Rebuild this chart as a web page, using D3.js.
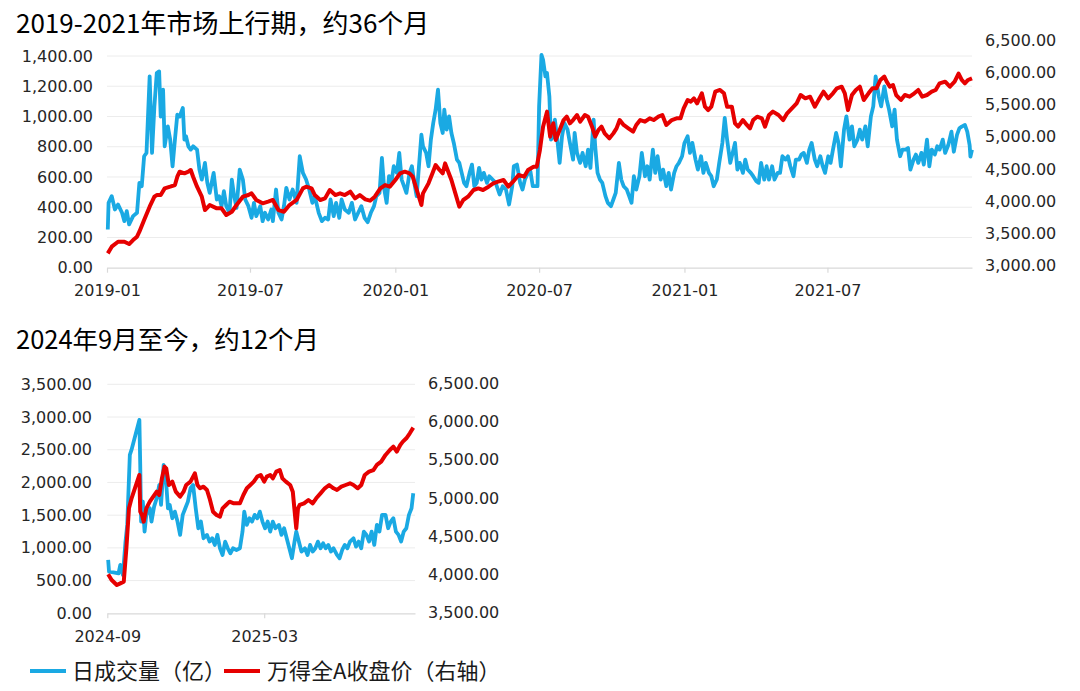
<!DOCTYPE html>
<html>
<head>
<meta charset="utf-8">
<script src="https://cdn.jsdelivr.net/npm/d3@7"></script>
<style>
    body { margin: 0; background: #fff; }
    svg { display: block; }
</style>
</head>
<body>
<div class="chart"></div>
<script>
// titles and legend names
const topTitle = "2019-2021年市场上行期，约36个月";
const bottomTitle = "2024年9月至今，约12个月";
const seriesNames = ["日成交量（亿）", "万得全A收盘价（右轴）"];

// 2019-2021: daily turnover (亿)
const topVolume = [
    ["2019-01-02",253],["2019-01-03",429],["2019-01-07",473],["2019-01-11",385],["2019-01-15",418],["2019-01-20",363],["2019-01-23",308],["2019-01-26",374],["2019-01-29",286],["2019-02-03",341],["2019-02-08",363],["2019-02-11",561],["2019-02-14",539],["2019-02-17",737],["2019-02-20",759],["2019-02-24",1265],["2019-02-27",759],["2019-03-02",1067],["2019-03-05",1287],["2019-03-08",1298],["2019-03-10",1000],["2019-03-13",1177],["2019-03-15",803],["2019-03-19",935],["2019-03-22",847],["2019-03-25",671],["2019-03-28",847],["2019-03-31",1012],["2019-04-03",1000],["2019-04-07",1056],["2019-04-09",847],["2019-04-11",869],["2019-04-14",803],["2019-04-17",781],["2019-04-20",803],["2019-04-25",781],["2019-04-28",649],["2019-05-01",583],["2019-05-05",693],["2019-05-08",561],["2019-05-11",495],["2019-05-16",627],["2019-05-20",451],["2019-05-23",473],["2019-05-26",407],["2019-05-29",506],["2019-06-01",407],["2019-06-05",363],["2019-06-08",583],["2019-06-11",473],["2019-06-14",396],["2019-06-18",649],["2019-06-22",583],["2019-06-25",451],["2019-06-29",407],["2019-07-03",330],["2019-07-06",429],["2019-07-09",341],["2019-07-14",407],["2019-07-17",308],["2019-07-20",363],["2019-07-24",319],["2019-07-28",385],["2019-07-30",308],["2019-08-03",517],["2019-08-06",363],["2019-08-10",319],["2019-08-13",407],["2019-08-16",528],["2019-08-20",451],["2019-08-24",517],["2019-08-29",429],["2019-09-02",737],["2019-09-06",627],["2019-09-10",583],["2019-09-14",517],["2019-09-18",429],["2019-09-21",473],
    ["2019-09-26",363],["2019-09-30",308],["2019-10-04",330],["2019-10-08",319],["2019-10-11",451],["2019-10-15",341],["2019-10-18",429],["2019-10-22",330],["2019-10-25",451],["2019-10-29",385],["2019-11-03",363],["2019-11-07",429],["2019-11-11",319],["2019-11-15",363],["2019-11-19",407],["2019-11-23",330],["2019-11-27",301],["2019-12-01",363],["2019-12-05",407],["2019-12-08",473],["2019-12-12",495],["2019-12-15",726],["2019-12-18",517],["2019-12-21",429],["2019-12-24",605],["2019-12-27",561],["2019-12-30",671],["2020-01-03",627],["2020-01-06",759],["2020-01-09",583],["2020-01-12",539],["2020-01-15",495],["2020-01-19",627],["2020-01-22",671],["2020-01-25",561],["2020-01-28",473],["2020-02-03",880],["2020-02-05",803],["2020-02-09",759],["2020-02-12",671],["2020-02-15",847],["2020-02-18",957],["2020-02-21",1045],["2020-02-24",1177],["2020-02-27",957],["2020-03-01",891],["2020-03-03",1045],["2020-03-06",913],["2020-03-09",1001],["2020-03-12",891],["2020-03-15",825],["2020-03-19",715],["2020-03-22",693],["2020-03-25",627],["2020-03-28",561],["2020-03-31",539],["2020-04-04",627],["2020-04-07",682],["2020-04-10",539],["2020-04-13",561],["2020-04-16",660],["2020-04-19",583],["2020-04-22",627],["2020-04-26",561],["2020-04-29",605],["2020-05-03",583],["2020-05-07",561],["2020-05-12",484],["2020-05-16",539],["2020-05-20",517],["2020-05-24",418],["2020-05-28",539],["2020-05-30",671],["2020-06-03",682],["2020-06-07",561],
    ["2020-06-10",517],["2020-06-13",583],["2020-06-17",627],["2020-06-20",638],["2020-06-23",539],["2020-06-29",539],["2020-07-01",1067],["2020-07-04",1408],["2020-07-06",1375],["2020-07-09",1265],["2020-07-11",1287],["2020-07-14",1133],["2020-07-16",847],["2020-07-19",869],["2020-07-21",979],["2020-07-24",847],["2020-07-27",693],["2020-07-30",869],["2020-08-02",957],["2020-08-06",913],["2020-08-09",825],["2020-08-13",715],["2020-08-15",891],["2020-08-18",759],["2020-08-22",693],["2020-08-25",759],["2020-08-29",671],["2020-09-01",781],["2020-09-04",660],["2020-09-08",979],["2020-09-10",803],["2020-09-13",627],["2020-09-16",583],["2020-09-19",561],["2020-09-23",473],["2020-09-26",429],["2020-09-30",407],["2020-10-03",451],["2020-10-06",495],["2020-10-10",693],["2020-10-13",583],["2020-10-16",539],["2020-10-20",517],["2020-10-23",473],["2020-10-26",429],["2020-10-29",605],["2020-11-01",517],["2020-11-05",605],["2020-11-08",759],["2020-11-12",605],["2020-11-15",671],["2020-11-18",583],["2020-11-22",781],["2020-11-25",627],["2020-11-28",737],["2020-12-02",583],["2020-12-05",649],["2020-12-09",539],["2020-12-12",627],["2020-12-15",517],["2020-12-19",627],["2020-12-22",671],["2020-12-25",693],["2020-12-29",737],["2021-01-01",825],["2021-01-05",869],["2021-01-08",759],["2021-01-11",825],["2021-01-15",715],["2021-01-18",649],["2021-01-22",737],["2021-01-25",627],["2021-01-28",693],["2021-02-01",627],["2021-02-04",605],["2021-02-07",539],["2021-02-11",583],["2021-02-14",693],["2021-02-18",825],["2021-02-21",990],["2021-02-24",847],["2021-02-28",693],
    ["2021-03-03",759],["2021-03-06",825],["2021-03-09",649],["2021-03-12",693],["2021-03-16",627],["2021-03-19",715],["2021-03-22",649],["2021-03-26",627],["2021-03-29",605],["2021-04-02",572],["2021-04-05",561],["2021-04-08",693],["2021-04-12",583],["2021-04-15",671],["2021-04-18",583],["2021-04-22",671],["2021-04-25",583],["2021-04-29",627],["2021-05-02",627],["2021-05-05",737],["2021-05-09",715],["2021-05-12",737],["2021-05-15",671],["2021-05-19",605],["2021-05-22",715],["2021-05-26",715],["2021-05-29",748],["2021-06-01",759],["2021-06-05",693],["2021-06-08",781],["2021-06-11",825],["2021-06-15",715],["2021-06-18",671],["2021-06-22",737],["2021-06-25",671],["2021-06-28",627],["2021-07-02",737],["2021-07-05",693],["2021-07-08",781],["2021-07-12",891],["2021-07-15",825],["2021-07-18",671],["2021-07-22",913],["2021-07-25",1001],["2021-07-29",847],["2021-08-01",935],["2021-08-04",803],["2021-08-08",847],["2021-08-11",913],["2021-08-14",847],["2021-08-18",935],["2021-08-21",803],["2021-08-25",1001],["2021-08-28",1067],["2021-08-31",1265],["2021-09-04",1133],["2021-09-07",1067],["2021-09-11",1199],["2021-09-14",1111],["2021-09-17",1045],["2021-09-21",935],["2021-09-24",1045],["2021-09-27",847],["2021-10-01",737],["2021-10-04",781],["2021-10-08",781],["2021-10-11",792],["2021-10-14",649],["2021-10-18",715],["2021-10-21",748],["2021-10-24",693],["2021-10-28",759],["2021-10-31",682],["2021-11-04",847],["2021-11-07",671],["2021-11-10",781],["2021-11-14",748],["2021-11-17",803],["2021-11-20",781],["2021-11-24",847],["2021-11-27",759],["2021-12-01",811],["2021-12-05",900],["2021-12-08",767],["2021-12-12",878],["2021-12-15",922],["2021-12-18",933],["2021-12-22",944],["2021-12-25",900],["2021-12-28",811],["2021-12-29",734],["2021-12-31",780]
];

// 2019-2021: Wind All A close (right axis)
const topIndex = [
    ["2019-01-02",3191],["2019-01-07",3295],["2019-01-15",3372],["2019-01-23",3372],["2019-01-29",3336],["2019-02-03",3398],["2019-02-08",3450],["2019-02-11",3527],["2019-02-17",3708],["2019-02-24",3915],["2019-03-02",4070],["2019-03-05",4096],["2019-03-10",4096],["2019-03-15",4199],["2019-03-22",4225],["2019-03-28",4251],["2019-03-31",4380],["2019-04-03",4458],["2019-04-09",4432],["2019-04-14",4458],["2019-04-17",4484],["2019-04-20",4380],["2019-04-25",4225],["2019-05-01",4070],["2019-05-05",3863],["2019-05-11",3941],["2019-05-20",3889],["2019-05-26",3889],["2019-06-01",3786],["2019-06-08",3837],["2019-06-14",3941],["2019-06-22",4070],["2019-06-29",4096],["2019-07-03",4122],["2019-07-09",4019],["2019-07-17",3967],["2019-07-24",3993],["2019-07-30",4019],["2019-08-06",3863],["2019-08-13",3837],["2019-08-20",3941],["2019-08-29",4019],["2019-09-06",4199],["2019-09-10",4225],["2019-09-17",4199],
    ["2019-09-21",4096],["2019-09-28",4019],["2019-10-04",4044],["2019-10-10",4174],["2019-10-17",4096],["2019-10-23",4122],["2019-10-29",4096],["2019-11-05",4148],["2019-11-11",4044],["2019-11-17",4096],["2019-11-24",4029],["2019-11-30",4008],["2019-12-06",4070],["2019-12-13",4199],["2019-12-19",4251],["2019-12-25",4225],["2020-01-01",4329],["2020-01-07",4432],["2020-01-13",4458],["2020-01-19",4432],["2020-01-23",4380],["2020-02-03",3941],["2020-02-05",4122],["2020-02-12",4277],["2020-02-17",4432],["2020-02-21",4561],["2020-02-26",4484],["2020-03-01",4432],["2020-03-04",4587],["2020-03-08",4458],["2020-03-12",4329],["2020-03-17",4122],["2020-03-22",3915],["2020-03-27",4019],["2020-04-02",4070],["2020-04-09",4174],["2020-04-15",4199],["2020-04-21",4174],["2020-04-28",4225],["2020-05-04",4277],["2020-05-10",4303],["2020-05-17",4329],["2020-05-23",4225],["2020-05-29",4303],["2020-06-05",4406],
    ["2020-06-12",4380],["2020-06-17",4484],["2020-06-24",4535],["2020-06-28",4535],["2020-07-02",4794],["2020-07-06",5156],["2020-07-11",5389],["2020-07-15",5001],["2020-07-19",5208],["2020-07-22",4949],["2020-07-27",5104],["2020-08-01",5259],["2020-08-05",5311],["2020-08-09",5208],["2020-08-13",5259],["2020-08-18",5337],["2020-08-22",5233],["2020-08-28",5337],["2020-09-01",5311],["2020-09-06",5156],["2020-09-10",5001],["2020-09-14",5104],["2020-09-18",5156],["2020-09-22",5052],["2020-09-28",4975],["2020-10-03",5052],["2020-10-07",5130],["2020-10-11",5259],["2020-10-16",5182],["2020-10-22",5130],["2020-10-28",5078],["2020-11-01",5182],["2020-11-06",5259],["2020-11-12",5233],["2020-11-18",5285],["2020-11-23",5259],["2020-11-29",5311],["2020-12-04",5337],["2020-12-09",5182],["2020-12-16",5259],["2020-12-22",5285],["2020-12-27",5285],["2020-12-31",5440],["2021-01-05",5569],["2021-01-09",5544],["2021-01-13",5595],["2021-01-17",5518],["2021-01-23",5673],["2021-01-27",5466],["2021-01-31",5414],["2021-02-04",5466],["2021-02-09",5699],["2021-02-15",5725],["2021-02-20",5673],["2021-02-24",5466],["2021-03-02",5466],
    ["2021-03-06",5208],["2021-03-10",5156],["2021-03-16",5259],["2021-03-21",5182],["2021-03-25",5130],["2021-03-29",5259],["2021-04-03",5311],["2021-04-09",5285],["2021-04-13",5156],["2021-04-18",5337],["2021-04-23",5389],["2021-04-30",5337],["2021-05-06",5259],["2021-05-11",5363],["2021-05-17",5440],["2021-05-23",5518],["2021-05-28",5647],["2021-06-03",5595],["2021-06-09",5621],["2021-06-15",5466],["2021-06-21",5595],["2021-06-26",5699],["2021-07-02",5595],["2021-07-08",5673],["2021-07-13",5750],["2021-07-19",5776],["2021-07-23",5673],["2021-07-27",5414],["2021-08-01",5647],["2021-08-06",5725],["2021-08-11",5776],["2021-08-16",5570],["2021-08-22",5673],["2021-08-27",5750],["2021-09-01",5750],["2021-09-06",5880],["2021-09-11",5932],["2021-09-14",5854],["2021-09-18",5776],["2021-09-22",5802],["2021-09-26",5647],["2021-10-02",5570],["2021-10-07",5647],["2021-10-13",5621],["2021-10-19",5673],["2021-10-24",5725],["2021-10-29",5621],["2021-11-04",5647],["2021-11-10",5699],["2021-11-15",5725],["2021-11-20",5828],["2021-11-27",5854],["2021-12-03",5776],["2021-12-09",5854],["2021-12-14",5980],["2021-12-18",5880],["2021-12-22",5829],["2021-12-26",5880],["2021-12-31",5906]
];

// 2024-09 onward: daily turnover (亿)
const bottomVolume = [
    ["2024-09-02",815],["2024-09-03",637],["2024-09-08",627],["2024-09-14",612],["2024-09-16",739],["2024-09-19",586],["2024-09-22",1096],["2024-09-24",1351],["2024-09-27",2421],["2024-09-29",2500],["2024-10-08",2956],["2024-10-09",2268],["2024-10-10",1402],["2024-10-12",1707],["2024-10-14",1249],["2024-10-16",1504],["2024-10-20",1605],["2024-10-22",1402],["2024-10-25",1631],["2024-10-28",1758],["2024-10-31",1962],["2024-11-02",1656],["2024-11-05",2268],["2024-11-07",2166],["2024-11-10",1605],["2024-11-12",1656],["2024-11-15",1453],["2024-11-18",1554],["2024-11-21",1402],["2024-11-24",1198],["2024-11-27",1504],["2024-11-30",1605],["2024-12-03",1707],["2024-12-06",1911],["2024-12-09",1962],["2024-12-12",1605],["2024-12-15",1300],["2024-12-18",1402],["2024-12-21",1147],["2024-12-25",1198],["2024-12-28",1096],["2024-12-31",1147],
    ["2025-01-03",1045],["2025-01-06",1198],["2025-01-09",994],["2025-01-12",892],["2025-01-15",1096],["2025-01-18",994],["2025-01-21",917],["2025-01-24",994],["2025-01-28",968],["2025-02-01",994],["2025-02-04",1249],["2025-02-06",1554],["2025-02-09",1351],["2025-02-12",1453],["2025-02-15",1402],["2025-02-18",1504],["2025-02-21",1453],["2025-02-24",1554],["2025-02-27",1402],["2025-03-02",1300],["2025-03-05",1402],["2025-03-08",1249],["2025-03-11",1402],["2025-03-14",1300],["2025-03-18",1351],["2025-03-21",1198],["2025-03-24",1300],["2025-03-27",1147],["2025-03-30",994],["2025-04-02",841],["2025-04-05",1096],["2025-04-07",1249],["2025-04-10",1096],["2025-04-13",943],["2025-04-17",994],["2025-04-20",892],["2025-04-23",1045],["2025-04-26",943],["2025-04-29",994],
    ["2025-05-02",1096],["2025-05-05",994],["2025-05-08",1070],["2025-05-11",994],["2025-05-14",1045],["2025-05-17",943],["2025-05-20",994],["2025-05-24",892],["2025-05-27",841],["2025-05-30",968],["2025-06-02",1045],["2025-06-05",994],["2025-06-08",1096],["2025-06-12",1147],["2025-06-15",1019],["2025-06-18",1096],["2025-06-21",994],["2025-06-24",1249],["2025-06-27",1198],["2025-06-30",1096],["2025-07-03",1249],["2025-07-06",1045],["2025-07-09",1351],["2025-07-12",1249],["2025-07-15",1504],["2025-07-19",1504],["2025-07-22",1300],["2025-07-25",1402],["2025-07-28",1453],["2025-07-31",1249],["2025-08-03",1198],["2025-08-06",1096],["2025-08-09",1249],["2025-08-12",1300],["2025-08-15",1504],["2025-08-18",1605],["2025-08-20",1835]
];

// 2024-09 onward: Wind All A close (right axis)
const bottomIndex = [
    ["2024-09-02",4002],["2024-09-06",3928],["2024-09-12",3862],["2024-09-16",3884],["2024-09-20",3906],["2024-09-23",4342],["2024-09-26",4865],["2024-09-29",4996],["2024-10-08",5301],["2024-10-09",4821],["2024-10-11",4778],["2024-10-13",4691],["2024-10-16",4865],["2024-10-20",4952],["2024-10-24",5018],["2024-10-28",5083],["2024-10-31",5039],["2024-11-03",5257],["2024-11-06",5410],["2024-11-08",5388],["2024-11-11",5170],["2024-11-15",5214],["2024-11-19",5083],["2024-11-24",5018],["2024-11-28",5083],["2024-12-01",5170],["2024-12-06",5214],["2024-12-11",5323],["2024-12-14",5170],["2024-12-17",5127],["2024-12-21",5148],["2024-12-25",5105],["2024-12-28",4996],
    ["2025-01-01",4821],["2025-01-05",4778],["2025-01-09",4756],["2025-01-12",4865],["2025-01-16",4909],["2025-01-20",4952],["2025-01-25",4930],["2025-02-01",4930],["2025-02-05",5039],["2025-02-09",5127],["2025-02-13",5170],["2025-02-17",5214],["2025-02-21",5279],["2025-02-25",5301],["2025-03-01",5214],["2025-03-04",5279],["2025-03-08",5301],["2025-03-11",5257],["2025-03-15",5345],["2025-03-19",5366],["2025-03-22",5257],["2025-03-26",5214],["2025-03-31",5170],["2025-04-03",5083],["2025-04-07",4603],["2025-04-09",4865],["2025-04-11",4909],["2025-04-16",4930],["2025-04-21",4974],["2025-04-26",4930],["2025-04-30",4996],
    ["2025-05-05",5061],["2025-05-10",5127],["2025-05-15",5170],["2025-05-20",5127],["2025-05-24",5105],["2025-05-29",5148],["2025-06-03",5170],["2025-06-08",5192],["2025-06-12",5170],["2025-06-17",5127],["2025-06-21",5170],["2025-06-25",5301],["2025-06-30",5345],["2025-07-05",5366],["2025-07-09",5432],["2025-07-14",5475],["2025-07-19",5563],["2025-07-24",5628],["2025-07-28",5672],["2025-08-01",5606],["2025-08-05",5693],["2025-08-08",5737],["2025-08-12",5781],["2025-08-16",5846],["2025-08-20",5920]
];

// axis ticks
const topLeftTicks = [0, 200, 400, 600, 800, 1000, 1200, 1400];
const topRightTicks = [3000, 3500, 4000, 4500, 5000, 5500, 6000, 6500];
const bottomLeftTicks = [0, 500, 1000, 1500, 2000, 2500, 3000, 3500];
const bottomRightTicks = [3500, 4000, 4500, 5000, 5500, 6000, 6500];
const topDateTicks = ["2019-01-01", "2019-07-01", "2020-01-01", "2020-07-01", "2021-01-01", "2021-07-01"];
const bottomDateTicks = ["2024-09-01", "2025-03-01"];
const topSpan = ["2019-01-01", "2021-12-31"];
const bottomSpan = ["2024-09-01", "2025-08-22"];

const blue = "#1aa9e3";
const red = "#e60000";
const numFont = "'DejaVu Sans', Verdana, sans-serif";
const cjkFont = "'Noto Sans CJK SC', 'Noto Sans', sans-serif";

const parseDate = d3.timeParse("%Y-%m-%d");
const fmtNum = d3.format(",.2f");
const fmtMonth = d3.timeFormat("%Y-%m");

const w = 1080;
const h = 691;

const svg = d3.select(".chart")
    .append("svg")
    .attr("width", w)
    .attr("height", h);

function drawPanel(p) {
    const g = svg.append("g");

    const xScale = d3.scaleTime()
        .domain(p.span.map(parseDate))
        .range([p.left, p.right]);
    const yLeft = d3.scaleLinear()
        .domain(d3.extent(p.leftTicks))
        .range(p.leftRange);
    const yRight = d3.scaleLinear()
        .domain(d3.extent(p.rightTicks))
        .range(p.rightRange);

    g.append("text")
        .text(p.title)
        .attr("x", 16)
        .attr("y", p.titleY)
        .attr("font-family", cjkFont)
        .attr("font-size", p.titleSize)
        .attr("fill", "#000");

    // gridlines (left axis)
    g.selectAll(".grid")
        .data(p.leftTicks.slice(1))
        .enter()
        .append("line")
        .attr("x1", p.left)
        .attr("x2", p.right)
        .attr("y1", d => yLeft(d))
        .attr("y2", d => yLeft(d))
        .attr("stroke", "#ececec")
        .attr("stroke-width", 1);

    const xAxis = d3.axisBottom(xScale)
        .tickValues(p.dateTicks.map(parseDate))
        .tickFormat(fmtMonth)
        .tickSizeInner(5)
        .tickSizeOuter(0)
        .tickPadding(12);

    const xg = g.append("g")
        .attr("transform", `translate(0,${yLeft(0)})`)
        .call(xAxis);
    xg.select(".domain").attr("stroke", "#d9d9d9").attr("stroke-width", 1.2);
    xg.selectAll(".tick line").attr("stroke", "#d9d9d9").attr("stroke-width", 1.2);
    xg.selectAll("text")
        .attr("font-family", numFont)
        .attr("font-size", 16)
        .attr("fill", "#262626");

    const yAxisL = d3.axisLeft(yLeft)
        .tickValues(p.leftTicks)
        .tickFormat(fmtNum)
        .tickSize(0)
        .tickPadding(0);
    const lg = g.append("g")
        .attr("transform", `translate(${p.leftLabelX},0)`)
        .call(yAxisL);
    lg.select(".domain").remove();
    lg.selectAll("text")
        .attr("font-family", numFont)
        .attr("font-size", 16)
        .attr("fill", "#262626");

    const yAxisR = d3.axisRight(yRight)
        .tickValues(p.rightTicks)
        .tickFormat(fmtNum)
        .tickSize(0)
        .tickPadding(0);
    const rg = g.append("g")
        .attr("transform", `translate(${p.rightLabelX},0)`)
        .call(yAxisR);
    rg.select(".domain").remove();
    rg.selectAll("text")
        .attr("font-family", numFont)
        .attr("font-size", 16)
        .attr("fill", "#262626");

    g.append("path")
        .datum(p.volume)
        .attr("fill", "none")
        .attr("stroke", blue)
        .attr("stroke-width", 3.8)
        .attr("stroke-linejoin", "round")
        .attr("d", d3.line()
            .x(d => xScale(parseDate(d[0])))
            .y(d => yLeft(d[1])));

    g.append("path")
        .datum(p.index)
        .attr("fill", "none")
        .attr("stroke", red)
        .attr("stroke-width", 4)
        .attr("stroke-linejoin", "round")
        .attr("d", d3.line()
            .x(d => xScale(parseDate(d[0])))
            .y(d => yRight(d[1])));
}

drawPanel({
    title: topTitle, titleY: 33, titleSize: 26,
    span: topSpan, left: 107, right: 972,
    leftTicks: topLeftTicks, leftRange: [267.7, 56],
    rightTicks: topRightTicks, rightRange: [265.7, 40],
    dateTicks: topDateTicks, leftLabelX: 93, rightLabelX: 985,
    volume: topVolume, index: topIndex
});

drawPanel({
    title: bottomTitle, titleY: 349, titleSize: 25.5,
    span: bottomSpan, left: 107.3, right: 415,
    leftTicks: bottomLeftTicks, leftRange: [613.3, 384.3],
    rightTicks: bottomRightTicks, rightRange: [612.7, 383.3],
    dateTicks: bottomDateTicks, leftLabelX: 92, rightLabelX: 428,
    volume: bottomVolume, index: bottomIndex
});

// legend
const legend = svg.append("g")
    .selectAll("g")
    .data(seriesNames)
    .enter()
    .append("g")
    .attr("transform", (d, i) => `translate(${i === 0 ? 30 : 224},671)`);

legend.append("line")
    .attr("x1", 0)
    .attr("x2", 36)
    .attr("stroke", (d, i) => i === 0 ? blue : red)
    .attr("stroke-width", 4);

legend.append("text")
    .text(d => d)
    .attr("x", (d, i) => i === 0 ? 42 : 43)
    .attr("dy", "0.35em")
    .attr("font-family", cjkFont)
    .attr("font-size", 22)
    .attr("fill", "#1a1a1a");
</script>
</body>
</html>
